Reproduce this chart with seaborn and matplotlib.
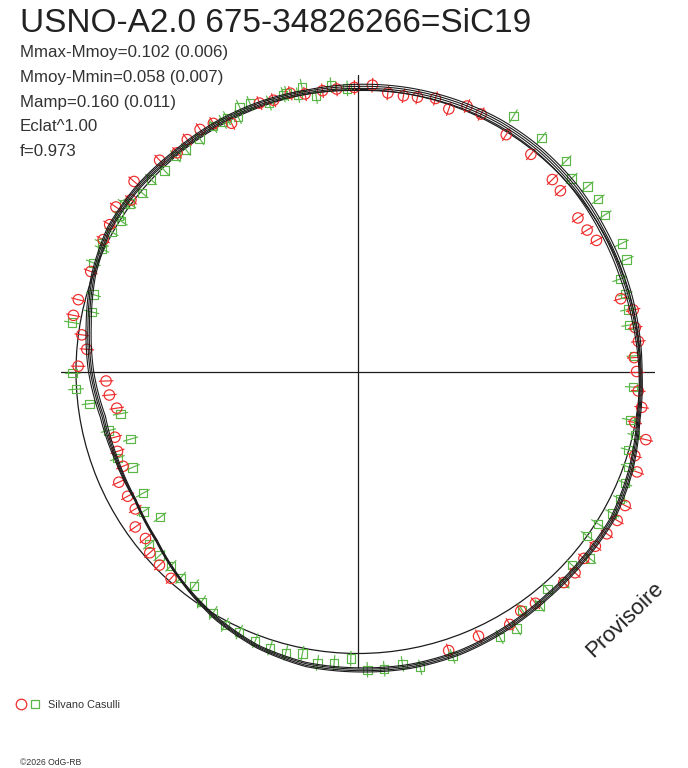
import numpy as np
import pandas as pd
import matplotlib
matplotlib.use("Agg")
import matplotlib.pyplot as plt
import seaborn as sns
from matplotlib.lines import Line2D
from matplotlib.legend_handler import HandlerTuple

# ---------------- data ----------------
TITLE = "USNO-A2.0 675-34826266=SiC19"
INFO_LINES = ["Mmax-Mmoy=0.102 (0.006)", "Mmoy-Mmin=0.058 (0.007)",
              "Mamp=0.160 (0.011)", "Eclat^1.00", "f=0.973"]
OBSERVER = "Silvano Casulli"
STAMP = "Provisoire"
CREDIT = "\u00a92026 OdG-RB"

# phase (0..1, clockwise from top) and magnitude offset from mean (mag, + = fainter)
red_phase = [0.008, 0.017, 0.026, 0.034, 0.044, 0.053, 0.062, 0.071, 0.089, 0.107,
             0.126, 0.134, 0.153, 0.162, 0.170, 0.207, 0.215, 0.225, 0.233, 0.242,
             0.250, 0.261, 0.270, 0.279, 0.287, 0.297, 0.305, 0.324, 0.333, 0.342,
             0.351, 0.360, 0.369, 0.377, 0.396, 0.405, 0.414, 0.432, 0.450,
             0.617, 0.627, 0.636, 0.644, 0.653, 0.662, 0.671, 0.681, 0.689, 0.699,
             0.708, 0.726, 0.735, 0.744, 0.753, 0.763, 0.771, 0.781, 0.790, 0.807,
             0.826, 0.835, 0.845, 0.853, 0.862, 0.880, 0.890, 0.899, 0.908, 0.916,
             0.925, 0.944, 0.952, 0.962, 0.970, 0.980, 0.988, 0.998]
red_dmag = [-0.018, 0.007, 0.010, 0.005, -0.007, 0.016, -0.019, -0.013, 0.010, 0.017,
            0.034, 0.041, 0.053, 0.049, 0.038, 0.036, 0.000, 0.005, 0.000, 0.021,
            0.013, 0.004, -0.015, 0.002, -0.053, -0.028, -0.056, -0.065, -0.065, -0.058,
            -0.049, -0.043, -0.054, -0.049, -0.038, -0.029, -0.050, -0.034, -0.044,
            0.012, 0.018, 0.023, 0.045, 0.040, 0.078, 0.077, 0.071, 0.110, 0.110,
            0.116, 0.146, 0.124, 0.115, 0.008, 0.038, 0.013, -0.031, -0.026, -0.013,
            -0.019, -0.025, -0.041, -0.010, -0.045, -0.030, -0.007, -0.023, -0.027, -0.020,
            0.013, -0.015, -0.008, -0.017, -0.002, -0.004, -0.005, -0.008]
red_err = 0.028

green_phase = [0.087, 0.106, 0.124, 0.133, 0.142, 0.151, 0.160, 0.178, 0.187, 0.196,
               0.205, 0.214, 0.223, 0.241, 0.259, 0.278, 0.286, 0.295, 0.304, 0.313,
               0.322, 0.331, 0.340, 0.349, 0.358, 0.367, 0.377, 0.386, 0.395, 0.404,
               0.412, 0.422, 0.449, 0.467, 0.476, 0.486, 0.495, 0.504, 0.513, 0.522,
               0.531, 0.540, 0.549, 0.558, 0.568, 0.577, 0.586, 0.595, 0.604, 0.613,
               0.622, 0.631, 0.640, 0.649, 0.658, 0.668, 0.686, 0.695, 0.704, 0.713,
               0.722, 0.731, 0.740, 0.749, 0.777, 0.785, 0.795, 0.812, 0.821, 0.824,
               0.832, 0.840, 0.842, 0.849, 0.851, 0.860, 0.869, 0.878, 0.888, 0.895,
               0.905, 0.915, 0.921, 0.924, 0.930, 0.933, 0.939, 0.949, 0.958, 0.960,
               0.966, 0.969, 0.976, 0.985, 0.994]
green_dmag = [-0.065, -0.057, -0.053, -0.023, -0.049, -0.052, -0.040, -0.043, -0.034, 0.017,
              0.015, 0.020, 0.027, 0.020, 0.026, 0.023, -0.009, 0.002, -0.018, -0.028,
              -0.037, -0.035, -0.008, 0.000, -0.062, -0.026, -0.050, -0.026, -0.055, -0.029,
              -0.077, -0.073, -0.069, -0.078, -0.053, -0.063, -0.063, -0.020, -0.040, -0.047,
              -0.021, -0.033, -0.031, -0.024, -0.017, -0.016, 0.002, 0.013, 0.047, 0.038,
              0.047, 0.043, 0.042, 0.139, 0.099, 0.134, 0.142, 0.101, 0.172, 0.098,
              0.157, 0.044, -0.002, -0.013, -0.032, 0.035, 0.025, -0.016, -0.007, -0.018,
              -0.005, 0.005, -0.013, -0.022, -0.005, 0.008, -0.001, 0.011, -0.001, 0.004,
              0.001, -0.011, -0.007, -0.012, 0.002, -0.030, -0.027, -0.003, -0.018, -0.019,
              -0.003, -0.032, 0.013, -0.022, -0.005]
green_err = 0.030

# fitted light curves, read every 10 degrees of phase
fit_deg = [0, 10, 20, 30, 40, 50, 60, 70, 80, 90, 100, 110, 120, 130, 140, 150, 160, 170,
           180, 190, 200, 210, 220, 230, 240, 250, 260, 270, 280, 290, 300, 310, 320, 330, 340, 350]
fit_1 = [-0.020, -0.024, -0.027, -0.029, -0.027, -0.022, -0.014, -0.010, -0.008, -0.008, -0.016, -0.039,
         -0.054, -0.052, -0.054, -0.064, -0.073, -0.075, -0.071, -0.068, -0.048, -0.016, 0.028, 0.070,
         0.093, 0.090, 0.078, 0.048, 0.023, -0.006, -0.027, -0.027, -0.020, -0.021, -0.020, -0.016]
fit_2 = [-0.012, -0.016, -0.019, -0.021, -0.019, -0.014, -0.006, -0.002, -0.001, -0.004, -0.012, -0.034,
         -0.049, -0.047, -0.049, -0.059, -0.068, -0.070, -0.066, -0.063, -0.044, -0.012, 0.030, 0.072,
         0.095, 0.094, 0.085, 0.055, 0.030, -0.001, -0.022, -0.022, -0.015, -0.016, -0.015, -0.011]
fit_3 = [-0.004, -0.008, -0.011, -0.013, -0.011, -0.006, 0.002, 0.006, 0.005, 0.000, -0.008, -0.028,
         -0.043, -0.041, -0.043, -0.053, -0.062, -0.064, -0.060, -0.057, -0.040, -0.008, 0.032, 0.074,
         0.097, 0.098, 0.091, 0.061, 0.036, 0.005, -0.016, -0.016, -0.009, -0.010, -0.009, -0.005]
fit_4 = [0.004, 0.000, -0.003, -0.005, -0.003, 0.002, 0.010, 0.014, 0.012, 0.004, -0.004, -0.023,
         -0.038, -0.036, -0.038, -0.048, -0.057, -0.059, -0.055, -0.052, -0.036, -0.004, 0.034, 0.076,
         0.099, 0.102, 0.098, 0.068, 0.043, 0.010, -0.011, -0.011, -0.004, -0.005, -0.004, 0.000]

# ---------------- styling constants ----------------
W, H = 688, 768
CX, CY = 358, 371.5          # plot centre (px)
R_MEAN = 282.0               # radius of the mean-magnitude circle
MAG_SCALE = 260.0            # radius units per magnitude
R_MAX = 297.0
RED = "#ee2b2b"
GREEN = "#5ab646"
INK = "#1c1c1c"

sns.set_style("white")
plt.rcParams["font.family"] = ["Liberation Sans", "DejaVu Sans"]

fig = plt.figure(figsize=(W / 100, H / 100), dpi=100)
ax = fig.add_axes([(CX - R_MAX) / W, (H - CY - R_MAX) / H, 2 * R_MAX / W, 2 * R_MAX / H],
                  projection="polar")
ax.set_theta_zero_location("N")
ax.set_theta_direction(-1)
ax.set_facecolor("none")


def to_frame(phase, dmag):
    phase = np.asarray(phase, float)
    dmag = np.asarray(dmag, float)
    return pd.DataFrame({"theta": 2 * np.pi * phase, "r": R_MEAN - MAG_SCALE * dmag})


red = to_frame(red_phase, red_dmag)
green = to_frame(green_phase, green_dmag)

for df, col, err, mk, size in [(green, GREEN, green_err, "s", 36), (red, RED, red_err, "o", 56)]:
    cont = ax.errorbar(df["theta"], df["r"], yerr=MAG_SCALE * err, fmt="none",
                       ecolor=col, elinewidth=0.85, capsize=0, zorder=2)
    for c in cont.lines[2]:
        c.set_clip_on(False)
    sns.scatterplot(x=df["theta"], y=df["r"], marker=mk, s=size, color=col,
                    facecolor="none", edgecolor=col, linewidth=0.85, ax=ax,
                    clip_on=False, zorder=3, legend=False)

fit_phase = np.append(np.asarray(fit_deg, float), 360.0) / 360.0
for fit in [fit_1, fit_2, fit_3, fit_4]:
    fdf = to_frame(fit_phase, np.append(fit, fit[0]))
    sns.lineplot(data=fdf, x="theta", y="r", sort=False, estimator=None, color=INK,
                 linewidth=0.8, ax=ax, clip_on=False, zorder=4)
for ln in ax.lines:
    ln.get_path()._interpolation_steps = 12

ax.set_ylim(0, R_MAX)
ax.set_rgrids([R_MEAN], labels=[""])
ax.set_thetagrids([0, 90, 180, 270], labels=[""] * 4)
ax.grid(True, color=INK, linewidth=0.9)
ax.spines["polar"].set_visible(False)
ax.tick_params(length=0)
ax.set_xlabel("")
ax.set_ylabel("")

# ---------------- texts ----------------
fig.text(20 / W, 1 - 31.7 / H, TITLE, fontsize=24, color="#222222", va="baseline")
for i, line in enumerate(INFO_LINES):
    fig.text(20 / W, 1 - (57.3 + 24.7 * i) / H, line, fontsize=12.2, color="#333333",
             va="baseline")
fig.text(625 / W, 1 - 620 / H, STAMP, fontsize=16, color="#222222", rotation=44,
         ha="center", va="center", rotation_mode="anchor")
fig.text(20 / W, 1 - 765 / H, CREDIT, fontsize=6.2, color="#333333", va="baseline")

h_red = Line2D([], [], ls="none", marker="o", ms=7.6, mfc="none", mec=RED, mew=0.9)
h_green = Line2D([], [], ls="none", marker="s", ms=5.2, mfc="none", mec=GREEN, mew=0.9)
fig.legend(handles=[(h_red, h_green)], labels=[OBSERVER],
           handler_map={tuple: HandlerTuple(ndivide=None, pad=0.3)},
           loc="center left", bbox_to_anchor=(16 / W, 1 - 705 / H),
           bbox_transform=fig.transFigure, frameon=False, fontsize=7.8,
           handlelength=2.2, handletextpad=0.8, borderpad=0, borderaxespad=0,
           labelcolor="#333333")

fig.savefig("out.png", dpi=100)
